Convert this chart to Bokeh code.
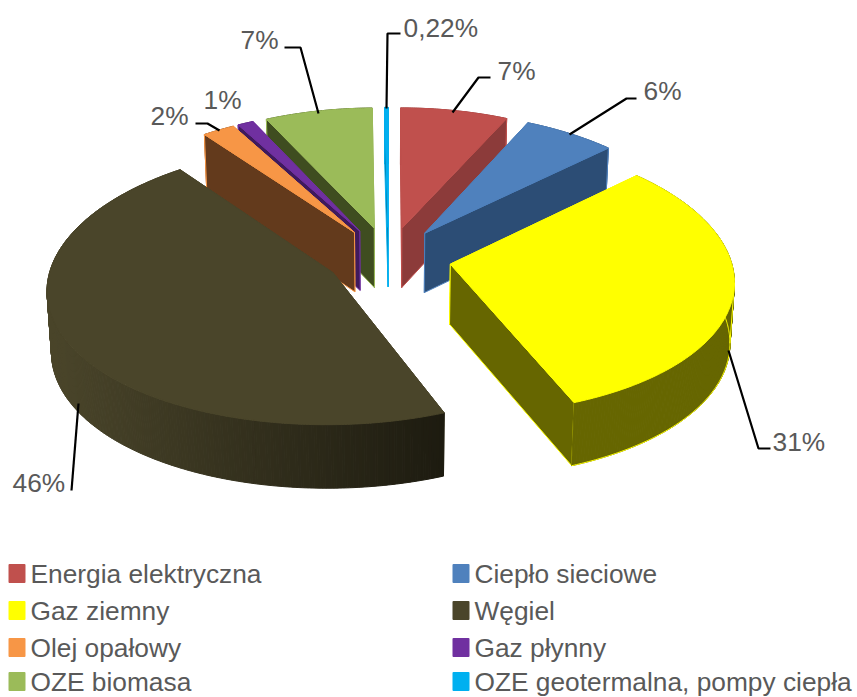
import numpy as np
from bokeh.plotting import figure
from bokeh.embed import file_html
from bokeh.resources import INLINE
from bokeh.core.properties import value

categories = ["Energia elektryczna", "Ciepło sieciowe", "Gaz ziemny", "Węgiel",
              "Olej opałowy", "Gaz płynny", "OZE biomasa", "OZE geotermalna, pompy ciepła"]
shares = [7.0, 6.0, 31.0, 45.8, 2.1, 1.03, 7.0, 0.22]
share_labels = ["7%", "6%", "31%", "46%", "2%", "1%", "7%", "0,22%"]
top_colors = ["#c0504d", "#4f81bd", "#ffff00", "#4a452a", "#f79646", "#7030a0", "#9bbb59", "#00b0f0"]
side_colors = ["#8c3b3a", "#2c4d75", "#666600", "#4a452a", "#633a1c", "#3f1a5c", "#3f4d20", "#006a90"]

# page / projection layout (reference pixels)
W, H = 857, 697
CX, CY, R, E, Q, KX, KY, T = 388, 257, 280, 63, 0.485, 0.11, 0.088, 60

p = figure(width=W, height=H, x_range=(0, W), y_range=(H, 0),
           toolbar_location=None, output_backend="svg", min_border=0)
p.axis.visible = False
p.grid.visible = False
p.outline_line_color = None
p.background_fill_color = "#ffffff"
p.border_fill_color = "#ffffff"


def project(X, Y, down=0.0):
    x = CX + (1 - 0.013 * down) * X / (1 + KX * Y / R)
    y = CY - Q * Y / (1 + KY * Y / R) + down * T / (1 + 0.05 * Y / R)
    return x, y


total = sum(shares)
edges = np.concatenate([[0], np.cumsum(shares)]) / total * 2 * np.pi
slices = []
for i in range(len(shares)):
    a0, a1 = edges[i], edges[i + 1]
    mid = (a0 + a1) / 2
    ox, oy = E * np.sin(mid), E * np.cos(mid)
    a = np.linspace(a0, a1, max(3, 2 * int(np.degrees(a1 - a0)) + 2))
    X = ox + R * np.sin(a)
    Y = oy + R * np.cos(a)
    slices.append((i, ox, oy, X, Y, a, mid))


def rim(i, a, xt, yt, xb, yb):
    top, side = top_colors[i], side_colors[i]
    shaded = categories[i] == "Węgiel"
    xs, ys, cols = [], [], []
    c0, c1 = np.array([0x4a, 0x45, 0x2a]), np.array([0x1d, 0x1b, 0x10])
    for k in range(len(a) - 1):
        xs.append([xt[k], xt[k + 1], xb[k + 1], xb[k]])
        ys.append([yt[k], yt[k + 1], yb[k + 1], yb[k]])
        if shaded:
            t = np.clip((xt[k] - 50) / 394, 0, 1)
            r, g, b = np.round(c0 + (c1 - c0) * t).astype(int)
            cols.append(f"#{r:02x}{g:02x}{b:02x}")
        else:
            cols.append(side)
    p.patches(xs, ys, fill_color=cols, line_color=cols, line_width=1)
    if not shaded:
        p.line(xb, yb, line_color=top, line_width=1)
        k = int(np.argmax(np.abs(xt - CX)))
        p.line([xt[k], xb[k]], [yt[k], yb[k]], line_color=top, line_width=1)


# back to front
for i, ox, oy, X, Y, a, mid in sorted(slices, key=lambda s: -s[2]):
    top, side = top_colors[i], side_colors[i]
    ax0, ay0 = project(ox, oy)
    ax1, ay1 = project(ox, oy, 1)
    xt, yt = project(X, Y)
    xb, yb = project(X, Y, 1)
    back = oy > 0
    if back:
        rim(i, a, xt, yt, xb, yb)
    for j in ((0, -1) if mid < np.pi else (-1, 0)):
        p.patch([ax0, xt[j], xb[j], ax1], [ay0, yt[j], yb[j], ay1],
                fill_color=side, line_color=top, line_width=1)
    if not back:
        rim(i, a, xt, yt, xb, yb)
    p.patch([ax0] + list(xt), [ay0] + list(yt), fill_color=top, line_color=top, line_width=1)

# leader lines
leaders = [
    ([400, 387, 386], [33, 33, 108]),
    ([490, 478, 452], [77, 77, 112]),
    ([636, 626, 569], [98, 98, 134]),
    ([770, 758, 728], [448, 448, 350]),
    ([71, 78], [490, 403]),
    ([195, 207, 219], [123, 123, 130]),
    ([284, 300, 318], [47, 47, 113]),
]
for lx, ly in leaders:
    p.line(lx, ly, line_color="#000000", line_width=2.2)

# data labels: one anchor per slice, in category order
label_x = [497, 643, 772, 12, 150, 203, 240, 403]
label_y = [70, 90, 441, 482, 115, 99, 39, 27]
p.text(label_x, label_y, text=share_labels, text_font=value("Liberation Sans"),
       text_font_size="26.3px", text_color="#595959", text_baseline="middle", text_align="left")

# legend
leg_x = [8, 452] * 4
leg_y = [573, 573, 610, 610, 647, 647, 681, 681]
for i, name in enumerate(categories):
    p.quad(left=leg_x[i] + 1, right=leg_x[i] + 16, top=leg_y[i] - 8.5, bottom=leg_y[i] + 8.5,
           fill_color=top_colors[i], line_color=top_colors[i], line_width=2, line_join="round")
p.text([x + 22 for x in leg_x], leg_y, text=categories, text_font=value("Liberation Sans"),
       text_font_size="26.3px", text_color="#595959", text_baseline="middle", text_align="left")

open("out.html", "w").write(file_html(p, INLINE))
